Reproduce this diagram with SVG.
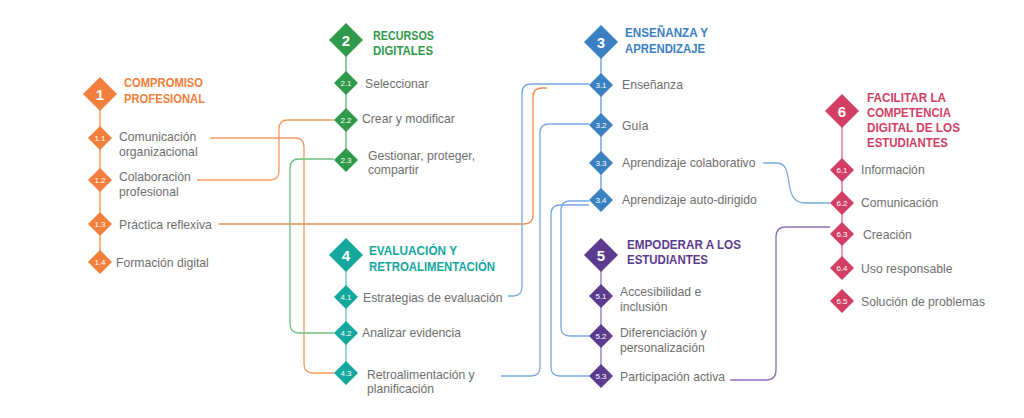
<svg xmlns="http://www.w3.org/2000/svg" xmlns:xlink="http://www.w3.org/1999/xlink" width="1024" height="418" viewBox="0 0 1024 418">
  <defs>
    <polygon id="big" points="0,-17 17,0 0,17 -17,0"/>
    <polygon id="small" points="0,-12 12,0 0,12 -12,0"/>
    <style>
      text { font-family: "Liberation Sans", Arial, sans-serif; }
      .lbl { font-size: 12.2px; fill: #6e6e6e; }
      .ttl { font-size: 13.5px; font-weight: bold; }
      .num { font-size: 15px; font-weight: bold; fill: #ffffff; text-anchor: middle; }
      .sub { font-size: 8px; fill: #ffffff; text-anchor: middle; }
      .spine { stroke-width: 1.6; fill: none; }
      .link { stroke-width: 1.3; fill: none; }
      .or { fill: #f0803c; } .gr { fill: #2f9a4a; } .bl { fill: #3a80c3; }
      .te { fill: #14a79d; } .pu { fill: #5c3b8f; } .cr { fill: #d23e64; }
    </style>
  </defs>
  <rect width="1024" height="418" fill="#ffffff"/>

  <!-- connectors between competences -->
  <g id="connectors">
    <path class="link" stroke="#f39a62" d="M210,138 H295 Q304,138 304,147 V364 Q304,373 313,373 H334"/>
    <path class="link" stroke="#f39a62" d="M197,180 H270 Q279,180 279,171 V129 Q279,120 288,120 H334"/>
    <path class="link" stroke="#f08a4b" d="M219,224 H524 Q533,224 533,215 V97 Q533,88 542,88 H547"/>
    <path class="link" stroke="#6dbf80" d="M334,159 H299 Q290,159 290,168 V324 Q290,333 299,333 H334"/>
    <path class="link" stroke="#78a9dd" d="M589,84 H531 Q522,84 522,93 V287 Q522,296 513,296 H508"/>
    <path class="link" stroke="#78a9dd" d="M589,124 H549 Q540,124 540,133 V367 Q540,376 531,376 H501"/>
    <path class="link" stroke="#78a9dd" d="M589,201 H570 Q561,201 561,210 V327 Q561,336 570,336 H589"/>
    <path class="link" stroke="#78a9dd" d="M589,205 H560 Q551,205 551,214 V367 Q551,376 560,376 H589"/>
    <path class="link" stroke="#78a9dd" d="M763,163 H776 C786,163 787,170 789,183 C791,196 794,203 806,203 H830"/>
    <path class="link" stroke="#8c6dbc" d="M730,380 H766 Q776,380 776,370 V237 Q776,227 786,227 H830"/>
  </g>

  <!-- 1 Compromiso profesional -->
  <g id="area-1">
    <line class="spine" stroke="#f5a16a" x1="100" y1="110" x2="100" y2="262"/>
    <use xlink:href="#big" class="or" x="100" y="94"/>
    <text class="num" x="100" y="99.5">1</text>
    <text class="ttl or" x="124" y="87" textLength="79" lengthAdjust="spacingAndGlyphs">COMPROMISO</text>
    <text class="ttl or" x="124" y="103" textLength="81" lengthAdjust="spacingAndGlyphs">PROFESIONAL</text>
  </g>
  <g id="c1-1"><use xlink:href="#small" class="or" x="100" y="138"/><text class="sub" x="100" y="140.8">1.1</text>
    <text class="lbl" x="119" y="141">Comunicación</text><text class="lbl" x="119" y="156">organizacional</text></g>
  <g id="c1-2"><use xlink:href="#small" class="or" x="100" y="180"/><text class="sub" x="100" y="182.8">1.2</text>
    <text class="lbl" x="119" y="181">Colaboración</text><text class="lbl" x="119" y="196">profesional</text></g>
  <g id="c1-3"><use xlink:href="#small" class="or" x="100" y="224"/><text class="sub" x="100" y="226.8">1.3</text>
    <text class="lbl" x="119" y="229">Práctica reflexiva</text></g>
  <g id="c1-4"><use xlink:href="#small" class="or" x="100" y="262"/><text class="sub" x="100" y="264.8">1.4</text>
    <text class="lbl" x="116" y="267">Formación digital</text></g>

  <!-- 2 Recursos digitales -->
  <g id="area-2">
    <line class="spine" stroke="#76c088" x1="346" y1="56" x2="346" y2="160"/>
    <use xlink:href="#big" class="gr" x="346" y="40"/>
    <text class="num" x="346" y="45.5">2</text>
    <text class="ttl gr" x="373" y="40" textLength="61" lengthAdjust="spacingAndGlyphs">RECURSOS</text>
    <text class="ttl gr" x="373" y="55" textLength="60" lengthAdjust="spacingAndGlyphs">DIGITALES</text>
  </g>
  <g id="c2-1"><use xlink:href="#small" class="gr" x="346" y="83"/><text class="sub" x="346" y="85.8">2.1</text>
    <text class="lbl" x="365" y="88">Seleccionar</text></g>
  <g id="c2-2"><use xlink:href="#small" class="gr" x="346" y="120"/><text class="sub" x="346" y="122.8">2.2</text>
    <text class="lbl" x="362" y="123">Crear y modificar</text></g>
  <g id="c2-3"><use xlink:href="#small" class="gr" x="346" y="160"/><text class="sub" x="346" y="162.8">2.3</text>
    <text class="lbl" x="368" y="160">Gestionar, proteger,</text><text class="lbl" x="368" y="174">compartir</text></g>

  <!-- 3 Enseñanza y aprendizaje -->
  <g id="area-3">
    <line class="spine" stroke="#7eabdd" x1="601" y1="58" x2="601" y2="200"/>
    <use xlink:href="#big" class="bl" x="601" y="42"/>
    <text class="num" x="601" y="47.5">3</text>
    <text class="ttl bl" x="625" y="37" textLength="83" lengthAdjust="spacingAndGlyphs">ENSEÑANZA Y</text>
    <text class="ttl bl" x="625" y="53" textLength="80" lengthAdjust="spacingAndGlyphs">APRENDIZAJE</text>
  </g>
  <g id="c3-1"><use xlink:href="#small" class="bl" x="601" y="85"/><text class="sub" x="601" y="87.8">3.1</text>
    <text class="lbl" x="622" y="89">Enseñanza</text></g>
  <g id="c3-2"><use xlink:href="#small" class="bl" x="601" y="125"/><text class="sub" x="601" y="127.8">3.2</text>
    <text class="lbl" x="622" y="130">Guía</text></g>
  <g id="c3-3"><use xlink:href="#small" class="bl" x="601" y="163"/><text class="sub" x="601" y="165.8">3.3</text>
    <text class="lbl" x="622" y="167">Aprendizaje colaborativo</text></g>
  <g id="c3-4"><use xlink:href="#small" class="bl" x="601" y="200"/><text class="sub" x="601" y="202.8">3.4</text>
    <text class="lbl" x="622" y="204">Aprendizaje auto-dirigido</text></g>

  <!-- 4 Evaluación y retroalimentación -->
  <g id="area-4">
    <line class="spine" stroke="#79cfc5" x1="346" y1="271" x2="346" y2="373"/>
    <use xlink:href="#big" class="te" x="346" y="255"/>
    <text class="num" x="346" y="260.5">4</text>
    <text class="ttl te" x="369" y="255" textLength="88" lengthAdjust="spacingAndGlyphs">EVALUACIÓN Y</text>
    <text class="ttl te" x="369" y="271" textLength="126" lengthAdjust="spacingAndGlyphs">RETROALIMENTACIÓN</text>
  </g>
  <g id="c4-1"><use xlink:href="#small" class="te" x="346" y="297"/><text class="sub" x="346" y="299.8">4.1</text>
    <text class="lbl" x="363" y="302">Estrategias de evaluación</text></g>
  <g id="c4-2"><use xlink:href="#small" class="te" x="346" y="333"/><text class="sub" x="346" y="335.8">4.2</text>
    <text class="lbl" x="362" y="337">Analizar evidencia</text></g>
  <g id="c4-3"><use xlink:href="#small" class="te" x="346" y="373"/><text class="sub" x="346" y="375.8">4.3</text>
    <text class="lbl" x="367" y="379">Retroalimentación y</text><text class="lbl" x="367" y="393">planificación</text></g>

  <!-- 5 Empoderar a los estudiantes -->
  <g id="area-5">
    <line class="spine" stroke="#a68dc9" x1="601" y1="271" x2="601" y2="376"/>
    <use xlink:href="#big" class="pu" x="601" y="255"/>
    <text class="num" x="601" y="260.5">5</text>
    <text class="ttl pu" x="627" y="249" textLength="114" lengthAdjust="spacingAndGlyphs">EMPODERAR A LOS</text>
    <text class="ttl pu" x="627" y="264" textLength="81" lengthAdjust="spacingAndGlyphs">ESTUDIANTES</text>
  </g>
  <g id="c5-1"><use xlink:href="#small" class="pu" x="601" y="296"/><text class="sub" x="601" y="298.8">5.1</text>
    <text class="lbl" x="620" y="296">Accesibilidad e</text><text class="lbl" x="620" y="311">inclusión</text></g>
  <g id="c5-2"><use xlink:href="#small" class="pu" x="601" y="336"/><text class="sub" x="601" y="338.8">5.2</text>
    <text class="lbl" x="620" y="337">Diferenciación y</text><text class="lbl" x="620" y="352">personalización</text></g>
  <g id="c5-3"><use xlink:href="#small" class="pu" x="601" y="376"/><text class="sub" x="601" y="378.8">5.3</text>
    <text class="lbl" x="620" y="381">Participación activa</text></g>

  <!-- 6 Facilitar la competencia digital de los estudiantes -->
  <g id="area-6">
    <line class="spine" stroke="#e3859e" x1="842" y1="127" x2="842" y2="268"/>
    <use xlink:href="#big" class="cr" x="842" y="111"/>
    <text class="num" x="842" y="116.5">6</text>
    <text class="ttl cr" x="867" y="102" textLength="79" lengthAdjust="spacingAndGlyphs">FACILITAR LA</text>
    <text class="ttl cr" x="867" y="117" textLength="84" lengthAdjust="spacingAndGlyphs">COMPETENCIA</text>
    <text class="ttl cr" x="867" y="132" textLength="93" lengthAdjust="spacingAndGlyphs">DIGITAL DE LOS</text>
    <text class="ttl cr" x="867" y="147" textLength="81" lengthAdjust="spacingAndGlyphs">ESTUDIANTES</text>
  </g>
  <g id="c6-1"><use xlink:href="#small" class="cr" x="842" y="170"/><text class="sub" x="842" y="172.8">6.1</text>
    <text class="lbl" x="861" y="174">Información</text></g>
  <g id="c6-2"><use xlink:href="#small" class="cr" x="842" y="203"/><text class="sub" x="842" y="205.8">6.2</text>
    <text class="lbl" x="861" y="207">Comunicación</text></g>
  <g id="c6-3"><use xlink:href="#small" class="cr" x="842" y="234"/><text class="sub" x="842" y="236.8">6.3</text>
    <text class="lbl" x="863" y="239">Creación</text></g>
  <g id="c6-4"><use xlink:href="#small" class="cr" x="842" y="268"/><text class="sub" x="842" y="270.8">6.4</text>
    <text class="lbl" x="861" y="273">Uso responsable</text></g>
  <g id="c6-5"><use xlink:href="#small" class="cr" x="842" y="301"/><text class="sub" x="842" y="303.8">6.5</text>
    <text class="lbl" x="861" y="306">Solución de problemas</text></g>
</svg>
